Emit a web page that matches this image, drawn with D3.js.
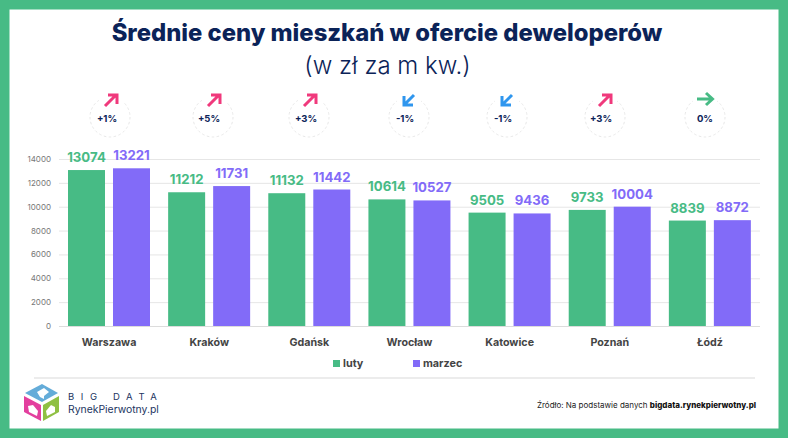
<!DOCTYPE html>
<html><head><meta charset="utf-8">
<script src="https://cdn.jsdelivr.net/npm/d3@7/dist/d3.min.js"></script>
<style>html,body{margin:0;padding:0;background:#fff}svg{display:block}text{font-family:Inter,"Open Sans",sans-serif}</style>
</head><body><div id="c"></div>
<script>
const categories=["Warszawa","Kraków","Gdańsk","Wrocław","Katowice","Poznań","Łódź"];
const luty=[13074,11212,11132,10614,9505,9733,8839];
const marzec=[13221,11731,11442,10527,9436,10004,8872];
const changes=["+1%","+5%","+3%","-1%","-1%","+3%","0%"];
const directions=["up","up","up","down","down","up","flat"];
const yTicks=[0,2000,4000,6000,8000,10000,12000,14000];
const seriesNames=["luty","marzec"];
const GREEN="#47bb85",PURPLE="#826bf8",NAVY="#0b2358";
const W=788,H=438;
const svg=d3.select("#c").append("svg").attr("width",W).attr("height",H);
svg.append("rect").attr("width",W).attr("height",H).attr("fill",GREEN);
svg.append("rect").attr("x",9.5).attr("y",9.5).attr("width",769).attr("height",419).attr("fill","#fff");

svg.append("text").attr("x",387).attr("y",41).attr("text-anchor","middle").attr("font-size",23.8).attr("font-weight",800).attr("fill",NAVY).text("Średnie ceny mieszkań w ofercie deweloperów");
svg.append("text").attr("x",387.5).attr("y",74).attr("text-anchor","middle").attr("font-size",24).attr("font-weight",300).attr("fill",NAVY).text("(w zł za m kw.)");

const x=d3.scaleBand().domain(categories).range([59,760]);
const y=d3.scaleLinear().domain([0,14000]).range([326,159]);
const inner=d3.scaleBand().domain(seriesNames).range([9,91]).paddingInner(0.178);

const ax=svg.append("g").attr("transform","translate(59,0)").call(d3.axisLeft(y).tickValues(yTicks).tickFormat(d3.format("d")).tickSize(0).tickPadding(8));
ax.select(".domain").remove();
ax.selectAll("text").attr("font-size",8).attr("fill","#777").style("font-family","Inter");
svg.append("g").selectAll("line").data(yTicks).join("line").attr("x1",59).attr("x2",760).attr("y1",d=>y(d)+.5).attr("y2",d=>y(d)+.5).attr("stroke",d=>d===0?"#dcdcdc":"#e6e6e6");

const series=[{n:"luty",v:luty,c:GREEN},{n:"marzec",v:marzec,c:PURPLE}];
series.forEach(s=>{
  const g=svg.append("g");
  const xp=(d,i)=>x(categories[i])+inner(s.n);
  g.selectAll("rect").data(s.v).join("rect").attr("x",xp).attr("y",d=>y(d)).attr("width",inner.bandwidth()).attr("height",d=>y(0)-y(d)).attr("fill",s.c);
  g.selectAll("text").data(s.v).join("text").attr("x",(d,i)=>xp(d,i)+inner.bandwidth()/2).attr("y",d=>y(d)-8).attr("text-anchor","middle").attr("font-size",13.2).attr("font-weight",700).attr("fill",s.c).text(d=>d);
});

svg.append("g").selectAll("text").data(categories).join("text").attr("x",d=>x(d)+x.bandwidth()/2).attr("y",346).attr("text-anchor","middle").attr("font-size",10.7).attr("font-weight",700).attr("fill","#444").text(d=>d);

const badgeX=[110,213,309,409,507,605,705];
const textX=[107,209,306,405,503,601,705];
const arrowX=[111,214,310,409,507,605,705];
const arrows={
 up:"M-6,6 L4,-4 M-3,-5 L6,-5 L6,4",
 down:"M5,-5 L-5,5 M-5,-4 L-5,5 L4,5",
 flat:"M-8,0 L7,0 M1,-6 L7.5,0 L1,6"};
const arrowColor={up:"#f0397c",down:"#2f96ee",flat:GREEN};
const b=svg.append("g");
changes.forEach((c,i)=>{
  b.append("circle").attr("cx",badgeX[i]).attr("cy",117).attr("r",20).attr("fill","none").attr("stroke","#e8e8e8").attr("stroke-dasharray","2.5 2.5");
  b.append("rect").attr("x",arrowX[i]-12).attr("y",92).attr("width",24).attr("height",14).attr("fill","#fff");
  b.append("path").attr("d",arrows[directions[i]]).attr("transform",`translate(${arrowX[i]},${directions[i]==="flat"?99:100})`).attr("fill","none").attr("stroke",arrowColor[directions[i]]).attr("stroke-width",3);
  b.append("text").attr("x",textX[i]).attr("y",122).attr("text-anchor","middle").attr("font-size",9.5).attr("font-weight",700).attr("fill",NAVY).text(c);
});

const legendX=[333,413];
series.forEach((s,i)=>{
  svg.append("rect").attr("x",legendX[i]).attr("y",360).attr("width",7).attr("height",7).attr("fill",s.c);
  svg.append("text").attr("x",legendX[i]+10).attr("y",367).attr("font-size",10.8).attr("font-weight",700).attr("fill","#444").text(s.n);
});

svg.append("line").attr("x1",34).attr("x2",755).attr("y1",378).attr("y2",378).attr("stroke","#e6e6e6").attr("stroke-width",1.5);

const l=svg.append("g");
l.append("path").attr("d","M42,384 L58,393 L42,402 L25,393 Z").attr("fill","#64acd9");
l.append("path").attr("d","M24,396 L41,405 L41,421 L24,412 Z").attr("fill","#e33f9e");
l.append("path").attr("d","M43,405 L59,396 L59,412 L43,421 Z").attr("fill","#8fc043");
l.append("path").attr("d","M33,405 L38,411 L37,416 L29,412 L28,406 Z").attr("fill","#fff");
l.append("path").attr("d","M51,405 L55,407 L55,412 L47,416 L46,411 Z").attr("fill","#fff");
l.append("path").attr("d","M37,392 L44,388 L49,392 L44,396 L44,399 L40,397 Z").attr("fill","#fff");
l.append("text").attr("x",68).attr("y",400).attr("font-size",9.5).attr("letter-spacing",6.6).attr("font-weight",400).attr("fill","#22355f").text("BIG DATA");
l.append("text").attr("x",68).attr("y",413).attr("font-size",10.4).attr("font-weight",400).attr("fill","#22355f").text("RynekPierwotny.pl");

const src=svg.append("text").attr("x",756).attr("y",408).attr("text-anchor","end").attr("font-size",8).attr("fill","#222");
src.append("tspan").text("Źródło: Na podstawie danych ");
src.append("tspan").attr("font-weight",800).attr("fill","#111").text("bigdata.rynekpierwotny.pl");
</script></body></html>
